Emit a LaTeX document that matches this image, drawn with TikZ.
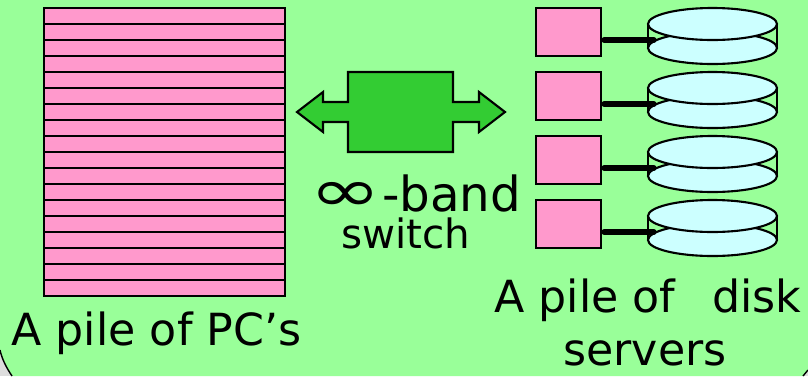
\documentclass[tikz,border=0pt]{standalone}
\usepackage{fontspec}
\setmainfont{DejaVu Sans}
\usepackage{graphicx}
\usetikzlibrary{positioning,calc,shapes.geometric}
\definecolor{slidegreen}{HTML}{99FF99}
\definecolor{pilepink}{HTML}{FF99CC}
\definecolor{switchgreen}{HTML}{33CC33}
\definecolor{diskblue}{HTML}{CCFFFF}
\definecolor{cornergray}{HTML}{DDDDDD}
\tikzset{
    pcbar/.style={draw=black, fill=pilepink, line width=1.4pt, minimum width=241*0.02cm, minimum height=16*0.02cm, inner sep=0, outer sep=0},
    srvbox/.style={draw=black, fill=pilepink, line width=1.2pt, minimum width=65*0.02cm, minimum height=48*0.02cm, inner sep=0, outer sep=0},
    platter/.style={ellipse, draw=black, fill=diskblue, line width=1.2pt, minimum width=129*0.02cm, minimum height=32*0.02cm, inner sep=0, outer sep=0},
    caption/.style={font=\fontsize{25.2pt}{30pt}\selectfont, inner sep=0, align=center},
    swlabel/.style={font=\fontsize{23pt}{30pt}\selectfont, inner sep=0, align=center},
    bandfont/.style={font=\fontsize{27.5pt}{30pt}\selectfont, inner sep=0, align=center}
}
\begin{document}
\begin{tikzpicture}[x=0.02cm, y=-0.02cm]
    \useasboundingbox (0,0) rectangle (808,376);
    % Fond de la diapositive
    \fill[cornergray] (0,340) rectangle (40,376);
    \fill[cornergray] (790,360) rectangle (808,376);
    \fill[slidegreen] (0,0) -- (808,0) -- (808,370) -- (803,376) -- (12,376) .. controls (6,367) and (2,359) .. (0,350) -- cycle;
    \draw[black, line width=0.8pt] (12,376) .. controls (6,367) and (2,359) .. (0,350);
    \draw[black, line width=0.8pt] (808,370) -- (803,376);

    % Pile de PC
    \foreach \i in {0,...,17} {
        \node[pcbar] (pc\i) at (164.5, {16+16*\i}) {};
    }
    \node[caption, anchor=base] (pclabel) at (156.5,345) {A pile of PC's};

    % Switch
    \draw[black, fill=switchgreen, line width=1.2pt]
        (348,72) -- (453,72) -- (453,102) -- (479,102) -- (479,92) -- (505,112) -- (479,132) -- (479,122) -- (453,122) -- (453,152) -- (348,152)
        -- (348,122) -- (323,122) -- (323,132) -- (297,112) -- (323,92) -- (323,102) -- (348,102) -- cycle;
    \node[bandfont, anchor=base] (bandlabel) at (415.5,211) {\scalebox{1.45}[1]{\fontsize{34pt}{34pt}\selectfont ∞}-band};
    \node[swlabel, anchor=base] (switchlabel) at (406,248) {switch};

    % Serveurs et disques
    \foreach \i/\y in {1/8, 2/72, 3/136, 4/200} {
        \node[srvbox] (srv\i) at (568.5, \y+24) {};
        \node[platter] (low\i) at (712.5, \y+40) {};
        \draw[black, line width=1.2pt] ($(low\i.west)+(0,-24)$) -- (low\i.west);
        \draw[black, line width=1.2pt] ($(low\i.east)+(0,-24)$) -- (low\i.east);
        \node[platter] (top\i) at (712.5, \y+16) {};
        \coordinate (plug\i) at (654, \y+32);
        \draw[black, line width=3pt, line cap=round] (srv\i.east |- plug\i) ++(3,0) -- (plug\i);
    }
    \node[caption, anchor=base] (srvlabel) at (648,312) {A pile of~~\hspace{5pt}disk};
    \node[caption, anchor=base] (srvlabel2) at (645,365) {servers};
\end{tikzpicture}
\end{document}
